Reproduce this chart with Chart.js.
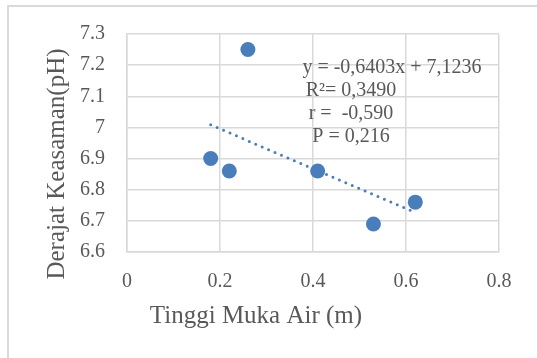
<!DOCTYPE html>
<html>
<head>
<meta charset="utf-8">
<title>Tinggi Muka Air vs pH</title>
<script src="https://cdn.jsdelivr.net/npm/chart.js@4"></script>
<style>
  html, body { margin: 0; padding: 0; background: #fff; }
  #wrap { width: 537px; height: 358px; position: relative; }
</style>
</head>
<body>
<div id="wrap"><canvas id="phChart" width="537" height="358"></canvas></div>
<script>
// water level (m) against acidity (pH), with linear trend
var tinggiAir = [0.18, 0.22, 0.26, 0.41, 0.53, 0.62];
var nilaiPh = [6.90, 6.86, 7.25, 6.86, 6.69, 6.76];

var trendSlope = -0.6403;
var trendIntercept = 7.1236;

var xTicks = [0, 0.2, 0.4, 0.6, 0.8];
var yTicks = [6.6, 6.7, 6.8, 6.9, 7, 7.1, 7.2, 7.3];

var statLines = ["y = -0,6403x + 7,1236", "R\u00b2= 0,3490", "r =  -0,590", "P = 0,216"];

var xTitle = "Tinggi Muka Air (m)";
var yTitle = "Derajat Keasaman(pH)";

(function () {
  "use strict";

  var BLUE = "#4a7ebb";
  var GRID = "#d9d9d9";
  var TEXT = "#595959";
  var FONT = "'Liberation Serif', 'Times New Roman', serif";

  function trendPoints() {
    var lo = Math.min.apply(null, tinggiAir);
    var hi = Math.max.apply(null, tinggiAir);
    return [
      { x: lo, y: trendSlope * lo + trendIntercept },
      { x: hi, y: trendSlope * hi + trendIntercept }
    ];
  }

  // frame, axis titles and the regression stats
  var decorPlugin = {
    id: "decor",
    beforeDraw: function (chart) {
      var ctx = chart.ctx;
      ctx.save();
      ctx.strokeStyle = GRID;
      ctx.lineWidth = 2;
      ctx.beginPath();
      ctx.moveTo(8, 358);
      ctx.lineTo(8, 6);
      ctx.lineTo(537, 6);
      ctx.stroke();
      ctx.restore();
    },
    afterDraw: function (chart) {
      var ctx = chart.ctx;
      var area = chart.chartArea;
      ctx.save();
      ctx.fillStyle = TEXT;
      ctx.textAlign = "center";
      ctx.textBaseline = "middle";

      ctx.font = "25px " + FONT;
      ctx.fillText(xTitle, 256, 316);

      ctx.save();
      ctx.translate(57, 164);
      ctx.rotate(-Math.PI / 2);
      ctx.fillText(yTitle, 0, 0);
      ctx.restore();

      ctx.font = "20px " + FONT;
      var cx = area.left + 265;
      ctx.fillText(statLines[0], cx, 68);
      for (var i = 1; i < statLines.length; i++) {
        ctx.fillText(statLines[i], cx - 41, 68 + i * 23);
      }
      ctx.restore();
    }
  };

  var scatterData = tinggiAir.map(function (x, i) {
    return { x: x, y: nilaiPh[i] };
  });

  new Chart(document.getElementById("phChart"), {
    type: "scatter",
    data: {
      datasets: [
        {
          label: "pH",
          data: scatterData,
          backgroundColor: BLUE,
          borderColor: BLUE,
          pointRadius: 7.5,
          pointHoverRadius: 7.5,
          borderWidth: 0
        },
        {
          label: "Trend",
          type: "line",
          data: trendPoints(),
          borderColor: BLUE,
          borderWidth: 3,
          borderDash: [0, 7],
          borderCapStyle: "round",
          pointRadius: 0,
          fill: false
        }
      ]
    },
    options: {
      responsive: false,
      animation: false,
      layout: { padding: { left: 0, top: 34, right: 38, bottom: 0 } },
      plugins: {
        legend: { display: false },
        tooltip: { enabled: false }
      },
      scales: {
        x: {
          type: "linear",
          min: 0,
          max: 0.8,
          afterFit: function (s) { s.height = 106; },
          afterBuildTicks: function (s) {
            s.ticks = xTicks.map(function (v) { return { value: v }; });
          },
          grid: { color: GRID, lineWidth: 1.5, drawTicks: false },
          border: { color: GRID, width: 1.5 },
          ticks: {
            padding: 18,
            color: TEXT,
            font: { family: FONT, size: 20 },
            callback: function (v) { return String(v); }
          }
        },
        y: {
          min: 6.6,
          max: 7.3,
          afterFit: function (s) { s.width = 127; },
          afterBuildTicks: function (s) {
            s.ticks = yTicks.map(function (v) { return { value: v }; });
          },
          grid: { color: GRID, lineWidth: 1.5, drawTicks: false },
          border: { color: GRID, width: 1.5 },
          ticks: {
            padding: 22,
            color: TEXT,
            font: { family: FONT, size: 20 },
            callback: function (v) { return String(Math.round(v * 10) / 10); }
          }
        }
      }
    },
    plugins: [decorPlugin]
  });
})();
</script>
</body>
</html>
